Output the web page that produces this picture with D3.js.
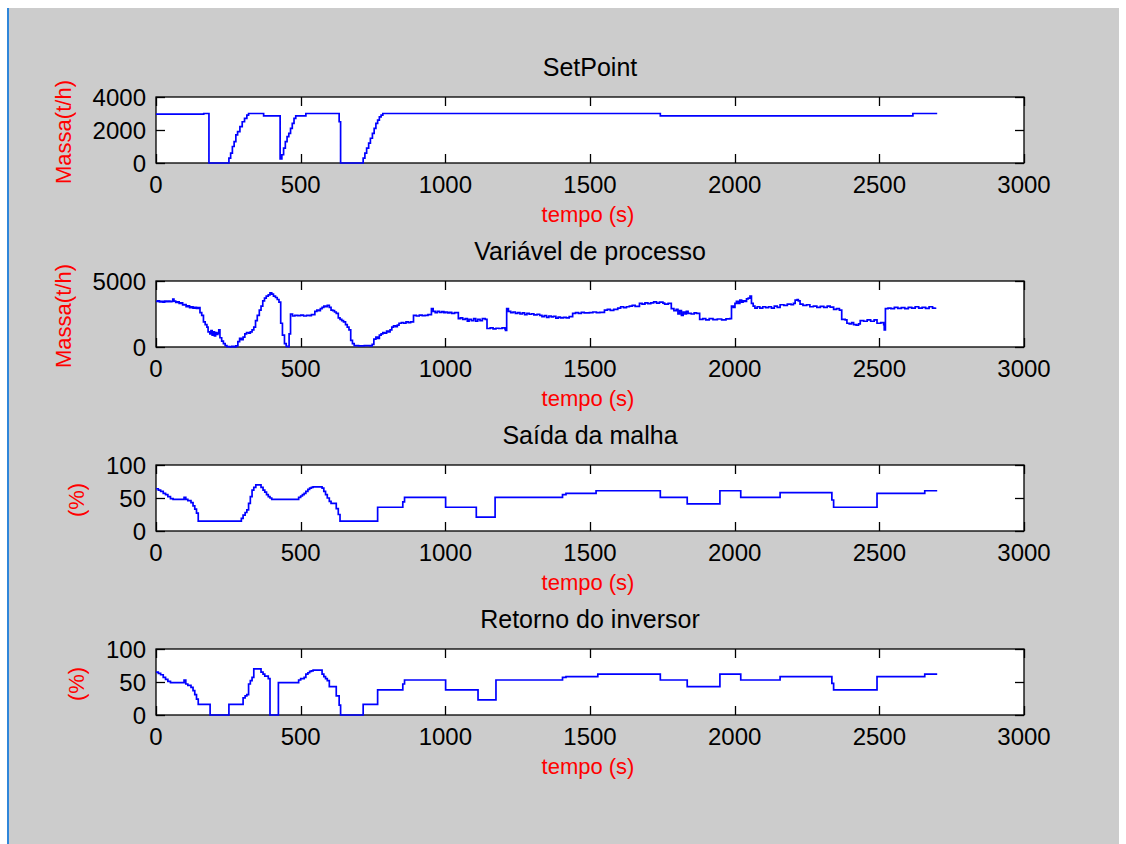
<!DOCTYPE html>
<html>
<head>
<meta charset="utf-8">
<script src="https://cdn.jsdelivr.net/npm/d3@7"></script>
<style>
  html, body { margin: 0; padding: 0; background: #ffffff; overflow: hidden; }
  text { font-family: "Liberation Sans", Arial, Helvetica, sans-serif; }
</style>
</head>
<body>
<svg id="fig" width="1126" height="844"></svg>
<script>
// ---- data -------------------------------------------------------------
const xTicks = [0, 500, 1000, 1500, 2000, 2500, 3000];
const panelTitles = ["SetPoint", "Variável de processo", "Saída da malha", "Retorno do inversor"];
const panelYLabels = ["Massa(t/h)", "Massa(t/h)", "(%)", "(%)"];
const xLabelText = "tempo (s)";
const yTicksMass1 = [0, 2000, 4000];
const yTicksMass2 = [0, 5000];
const yTicksPercent = [0, 50, 100];

// SetPoint [tempo (s), massa (t/h)]
const setPointSeries = [
  [0, 2960], [165, 3000], [183, 0], [252, 300], [258, 600], [264, 1000], [270, 1300],
  [276, 1700], [282, 1900], [290, 2200], [298, 2500], [306, 2700], [314, 2900], [320, 3000],
  [372, 2860], [429, 250], [435, 500], [441, 900], [447, 1300], [453, 1600], [459, 1800],
  [465, 2100], [471, 2400], [477, 2700], [483, 2860], [518, 3000], [633, 2500], [638, 0],
  [716, 300], [722, 600], [728, 900], [735, 1200], [741, 1500], [748, 1800], [754, 2100],
  [760, 2400], [766, 2600], [772, 2800], [778, 2900], [784, 3000], [1743, 2860],
  [2616, 3000], [2700, 3000]
];

// Variável de processo [tempo (s), massa (t/h)]
const processSeries = [
  [0,3450],[6,3500],[12,3420],[18,3460],[24,3400],[30,3470],[36,3430],[42,3480],[48,3440],[54,3460],
  [58,3620],[62,3470],[68,3380],[74,3420],[80,3300],[86,3350],[92,3180],[98,3220],[104,3060],[110,3120],
  [116,2980],[122,3050],[128,2940],[134,3000],[140,2920],[146,2980],[152,2600],[158,2400],[164,1900],[170,1700],
  [176,1500],[180,1150],[186,1000],[190,1250],[194,900],[198,1150],[202,850],[206,1100],[210,950],[214,1050],
  [217,1300],[221,700],[227,450],[233,250],[239,100],[245,30],[255,0],[262,50],[270,0],[276,80],
  [283,400],[289,650],[295,550],[301,750],[307,1000],[313,1100],[320,1050],[326,1150],[332,1300],[338,1500],
  [344,2000],[350,2400],[357,2800],[363,3100],[369,3500],[375,3700],[381,3850],[388,3950],[394,4100],[400,4000],
  [406,3850],[413,3750],[419,3600],[425,3400],[431,1800],[437,900],[444,250],[450,50],[456,30],[460,1000],
  [465,2500],[472,2350],[480,2400],[490,2380],[500,2420],[510,2350],[520,2400],[530,2380],[537,2450],[549,2700],
  [556,2800],[562,2750],[568,2900],[574,3000],[580,3100],[586,3050],[592,3150],[599,3000],[605,2800],[611,2750],
  [617,2650],[623,2550],[630,2200],[636,2100],[642,2000],[648,1900],[655,1700],[661,1500],[667,1300],[673,500],
  [679,250],[685,100],[700,80],[720,100],[740,80],[747,200],[753,600],[760,750],[766,650],[772,900],
  [778,1000],[784,1100],[790,1050],[797,1200],[803,1150],[809,1300],[815,1500],[821,1600],[828,1550],[834,1650],
  [840,1800],[848,1850],[856,1800],[864,1900],[872,1850],[880,1900],[890,2400],[900,2350],[910,2420],[920,2380],
  [930,2400],[940,2450],[952,2900],[958,2700],[965,2600],[972,2700],[980,2620],[988,2680],[995,2600],[1001,2650],
  [1008,2580],[1015,2620],[1022,2550],[1032,2600],[1045,2150],[1052,2200],[1060,2100],[1069,2150],[1076,1950],[1082,2100],
  [1090,2000],[1098,2150],[1105,1950],[1112,2100],[1120,2000],[1128,2150],[1138,2100],[1144,1400],[1155,1450],[1165,1380],
  [1175,1420],[1185,1400],[1196,1450],[1206,1380],[1208,1250],[1212,2900],[1218,2700],[1226,2600],[1234,2650],[1242,2550],
  [1250,2600],[1258,2500],[1266,2580],[1274,2450],[1282,2550],[1290,2480],[1298,2520],[1306,2430],[1317,2480],[1326,2400],
  [1334,2300],[1342,2380],[1350,2250],[1358,2350],[1366,2280],[1374,2330],[1382,2180],[1390,2260],[1398,2200],[1408,2250],
  [1418,2200],[1428,2300],[1440,2550],[1450,2600],[1460,2550],[1470,2620],[1480,2580],[1498,2600],[1510,2650],[1522,2600],
  [1534,2620],[1550,2800],[1560,2850],[1570,2780],[1582,2850],[1596,2950],[1606,3050],[1616,2980],[1626,3050],[1636,3100],
  [1646,3150],[1656,3080],[1671,3300],[1680,3250],[1690,3350],[1700,3280],[1710,3350],[1720,3420],[1730,3330],[1740,3400],
  [1752,3320],[1758,3250],[1770,3300],[1781,2900],[1790,2750],[1798,2850],[1804,2500],[1810,2750],[1816,2400],[1822,2650],
  [1828,2500],[1833,2700],[1839,2550],[1850,2500],[1860,2580],[1868,2550],[1879,2100],[1890,2150],[1900,2050],[1912,2150],
  [1925,2080],[1940,2120],[1955,2050],[1970,2130],[1983,2150],[1989,3100],[1995,3000],[2001,3300],[2006,3450],[2012,3300],
  [2018,3550],[2024,3400],[2029,3500],[2035,3450],[2041,3650],[2047,3700],[2053,3850],[2058,3300],[2064,3100],[2070,2950],
  [2078,3050],[2087,2950],[2097,3050],[2107,2980],[2117,3050],[2127,2950],[2137,3100],[2147,3000],[2157,3200],[2170,3150],
  [2182,3250],[2195,3200],[2203,3300],[2209,3550],[2216,3600],[2220,3500],[2226,3250],[2236,3150],[2249,3200],[2260,3050],
  [2272,3100],[2284,3000],[2296,3080],[2308,3000],[2320,3100],[2330,3020],[2342,2850],[2352,2900],[2362,2800],[2370,2100],
  [2382,2050],[2388,1800],[2396,1750],[2404,1850],[2411,1700],[2420,1650],[2428,1750],[2434,2000],[2446,1950],[2458,2050],
  [2470,1950],[2482,2050],[2492,1800],[2505,1850],[2515,1700],[2517,1300],[2521,2900],[2530,2950],[2540,2900],[2552,3000],
  [2564,2920],[2576,2980],[2588,2900],[2600,3000],[2612,2950],[2624,3050],[2636,2950],[2648,3000],[2660,2920],[2672,3050],
  [2684,2950],[2694,3000]
];

// Saída da malha [tempo (s), %]
const outputSeries = [
  [0, 64], [8, 62], [16, 60], [25, 57], [33, 55], [41, 52], [50, 49], [59, 48], [90, 48],
  [97, 51], [103, 48], [110, 46], [121, 43], [128, 38], [134, 33], [140, 27], [146, 15],
  [289, 15], [295, 19], [301, 24], [308, 28], [314, 32], [320, 42], [326, 52], [332, 62],
  [338, 66], [345, 70], [357, 70], [363, 66], [370, 62], [376, 59], [382, 55], [388, 52],
  [394, 50], [400, 48], [487, 48], [493, 51], [500, 53], [506, 55], [512, 57], [518, 60],
  [525, 63], [531, 65], [537, 66], [543, 67], [568, 67], [574, 65], [580, 60], [586, 55],
  [592, 50], [599, 45], [605, 42], [617, 42], [623, 34], [630, 25], [636, 15], [766, 36],
  [853, 44], [859, 51], [1001, 36], [1107, 21], [1172, 51], [1405, 55], [1417, 57],
  [1521, 61], [1743, 51], [1836, 41], [1949, 61], [2021, 51], [2157, 58], [2336, 47],
  [2342, 36], [2492, 57], [2657, 61], [2700, 61]
];

// Retorno do inversor [tempo (s), %]
const inverterSeries = [
  [0, 65], [8, 63], [16, 61], [25, 57], [33, 54], [41, 51], [50, 49], [90, 49], [97, 53],
  [103, 47], [110, 45], [121, 42], [128, 37], [134, 31], [140, 24], [146, 16], [187, 0],
  [252, 16], [295, 16], [301, 26], [308, 29], [314, 31], [320, 47], [326, 52], [332, 57],
  [338, 70], [357, 70], [363, 65], [370, 62], [376, 59], [388, 55], [394, 0], [423, 49],
  [487, 49], [493, 53], [500, 55], [512, 57], [518, 62], [525, 64], [531, 66], [537, 67],
  [543, 68], [568, 68], [574, 62], [580, 58], [586, 55], [592, 52], [599, 43], [617, 43],
  [623, 29], [633, 15], [638, 0], [716, 16], [766, 38], [853, 47], [859, 53], [1001, 38],
  [1113, 23], [1175, 53], [1405, 57], [1417, 58], [1527, 62], [1743, 53], [1836, 43],
  [1949, 62], [2021, 53], [2157, 58], [2336, 48], [2342, 38], [2492, 58], [2657, 62],
  [2700, 62]
];

// ---- layout -----------------------------------------------------------
const svg = d3.select("#fig");
const W = 1126, H = 844;
const plotLeft = 156, plotRight = 1024;
const firstTop = 97, panelStep = 184, panelHeight = 66;
const tickLen = 9;

// window frame
svg.append("rect").attr("x", 0).attr("y", 0).attr("width", W).attr("height", H).attr("fill", "#ffffff");
svg.append("rect").attr("x", 9).attr("y", 8).attr("width", 1110).attr("height", H - 8).attr("fill", "#cccccc");
svg.append("rect").attr("x", 7).attr("y", 8).attr("width", 2).attr("height", H - 8).attr("fill", "#2f86d9");

const x = d3.scaleLinear().domain([0, 3000]).range([plotLeft, plotRight]);

const panels = [
  { series: setPointSeries, yTicks: yTicksMass1 },
  { series: processSeries, yTicks: yTicksMass2 },
  { series: outputSeries, yTicks: yTicksPercent },
  { series: inverterSeries, yTicks: yTicksPercent }
];

panels.forEach((p, i) => {
  const top = firstTop + i * panelStep;
  const bottom = top + panelHeight;
  const yMax = p.yTicks[p.yTicks.length - 1];
  const y = d3.scaleLinear().domain([0, yMax]).range([bottom, top]);
  const g = svg.append("g");

  // axes area
  g.append("rect")
    .attr("x", plotLeft).attr("y", top)
    .attr("width", plotRight - plotLeft).attr("height", panelHeight)
    .attr("fill", "#ffffff").attr("stroke", "#000000").attr("stroke-width", 1.3);

  // inward tick marks on all four sides
  const tg = g.append("g").attr("stroke", "#000000").attr("stroke-width", 1.3);
  xTicks.forEach(t => {
    const px = Math.round(x(t)) + 0.5;
    tg.append("line").attr("x1", px).attr("x2", px).attr("y1", bottom).attr("y2", bottom - tickLen);
    tg.append("line").attr("x1", px).attr("x2", px).attr("y1", top).attr("y2", top + tickLen);
  });
  p.yTicks.forEach(v => {
    const py = Math.round(y(v)) + 0.5;
    tg.append("line").attr("x1", plotLeft).attr("x2", plotLeft + tickLen).attr("y1", py).attr("y2", py);
    tg.append("line").attr("x1", plotRight).attr("x2", plotRight - tickLen).attr("y1", py).attr("y2", py);
  });

  // tick labels
  g.append("g").selectAll("text").data(xTicks).join("text")
    .attr("x", d => x(d)).attr("y", bottom + 30)
    .attr("text-anchor", "middle").attr("font-size", 24).attr("fill", "#000000")
    .text(d => d);
  const yLab = g.append("g").selectAll("text").data(p.yTicks).join("text")
    .attr("x", plotLeft - 10).attr("y", d => y(d) + 8.5)
    .attr("text-anchor", "end").attr("font-size", 24).attr("fill", "#000000")
    .text(d => d);
  let maxW = 0;
  yLab.each(function () { maxW = Math.max(maxW, this.getComputedTextLength()); });

  // title
  g.append("text")
    .attr("x", (plotLeft + plotRight) / 2).attr("y", top - 21)
    .attr("text-anchor", "middle").attr("font-size", 25).attr("fill", "#000000")
    .text(panelTitles[i]);

  // axis labels
  g.append("text")
    .attr("x", 588).attr("y", bottom + 59)
    .attr("text-anchor", "middle").attr("font-size", 22).attr("fill", "#ff0000")
    .text(xLabelText);
  const labX = plotLeft - 10 - maxW - 22;
  const labY = (top + bottom) / 2 + 2;
  g.append("text")
    .attr("transform", `translate(${labX},${labY}) rotate(-90)`)
    .attr("text-anchor", "middle").attr("font-size", 22).attr("fill", "#ff0000")
    .text(panelYLabels[i]);

  // data trace
  const line = d3.line()
    .x(d => x(d[0]))
    .y(d => y(d[1]))
    .curve(d3.curveStepAfter);
  g.append("path")
    .datum(p.series)
    .attr("d", line)
    .attr("fill", "none")
    .attr("stroke", "#0000ff")
    .attr("stroke-width", 1.7)
    .attr("stroke-linejoin", "miter");
});
</script>
</body>
</html>
